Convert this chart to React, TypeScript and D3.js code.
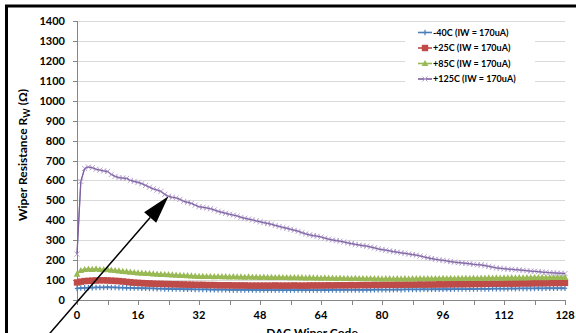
import React from 'react';
import * as d3 from 'd3';

const xTicks = [0, 16, 32, 48, 64, 80, 96, 112, 128];
const xMinorTicks = [0, 8, 16, 24, 32, 40, 48, 56, 64, 72, 80, 88, 96, 104, 112, 120, 128];
const yTicks = [0, 100, 200, 300, 400, 500, 600, 700, 800, 900, 1000, 1100, 1200, 1300, 1400];

const seriesNames = ['-40C (IW = 170uA)', '+25C (IW = 170uA)', '+85C (IW = 170uA)', '+125C (IW = 170uA)'];

const minus40 = [
  58,60,61,62,62,63,63,63,64,63,
  63,62,62,61,61,60,60,59,59,58,
  58,57,57,56,56,55,55,55,54,54,
  54,53,53,53,53,52,52,52,52,52,
  51,51,51,51,51,51,50,51,50,50,
  50,50,50,50,50,50,50,50,50,50,
  50,50,50,50,50,51,50,51,51,51,
  51,51,51,51,51,51,52,51,52,52,
  52,52,52,52,53,52,53,53,53,53,
  53,54,53,54,54,54,54,55,54,55,
  55,55,55,56,55,56,56,56,56,57,
  57,57,57,57,58,57,58,58,58,58,
  58,59,58,59,59,59,59,60,59,
];

const plus25 = [
  88,92,95,96,97,98,99,99,98,97,
  96,95,93,91,89,87,86,85,84,83,
  82,81,81,80,80,79,79,78,78,77,
  77,76,76,76,75,75,75,74,74,74,
  74,73,73,73,73,72,72,72,72,72,
  72,72,73,72,72,72,72,73,72,72,
  72,73,73,73,73,73,74,73,74,74,
  74,74,75,74,75,75,75,75,76,75,
  76,76,76,76,77,76,77,77,77,77,
  78,77,78,78,78,79,78,79,79,79,
  80,79,80,80,80,81,80,81,81,82,
  81,82,82,83,82,83,83,84,83,84,
  84,85,84,85,85,86,85,86,86,
];

const plus85 = [
  130,148,153,155,154,156,153,152,154,150,
  148,146,144,142,140,138,136,135,134,133,
  131,130,129,128,127,126,125,124,123,122,
  121,120,119,119,118,118,117,118,117,117,
  116,117,116,116,115,116,115,115,114,115,
  114,114,113,114,113,113,112,113,112,112,
  111,112,111,111,110,111,110,110,109,110,
  109,109,108,109,108,108,107,108,107,107,
  106,107,107,106,107,106,107,106,107,107,
  108,107,108,107,108,108,109,108,109,108,
  109,109,110,109,110,109,110,110,111,110,
  111,110,111,111,112,111,112,111,112,112,
  113,112,113,112,113,113,114,113,114,
];

const plus125 = [
  230,595,660,667,664,656,652,648,645,630,
  620,614,612,610,600,595,590,584,575,566,
  558,552,545,530,520,515,512,505,495,490,
  485,476,468,465,462,458,452,445,440,435,
  430,426,422,415,410,406,402,397,393,388,
  384,380,374,369,364,360,355,350,345,338,
  332,327,323,320,316,310,305,301,298,295,
  291,287,283,279,276,273,270,266,262,257,
  253,250,247,243,240,237,234,231,228,225,
  221,216,212,208,204,201,199,196,193,190,
  188,186,184,182,179,177,176,173,169,165,
  161,159,157,155,154,152,151,149,147,145,
  144,142,140,139,137,136,135,134,133,
];

const arrowTargetCode = 24;

const W = 576;
const H = 333;
const FONT = 'Lato, "Liberation Sans", Arial, sans-serif';

type MarkerKind = 'plus' | 'square' | 'triangle' | 'cross';

function Marker({ kind, x, y, color }: { kind: MarkerKind; x: number; y: number; color: string }) {
  if (kind === 'plus') {
    return (
      <g stroke={color} strokeWidth={1.2}>
        <line x1={x} y1={y - 2.8} x2={x} y2={y + 2.8} />
        <line x1={x - 2.2} y1={y} x2={x + 2.2} y2={y} />
      </g>
    );
  }
  if (kind === 'square') {
    return <rect x={x - 3.2} y={y - 3.2} width={6.4} height={6.4} fill={color} />;
  }
  if (kind === 'triangle') {
    return <path d={`M${x},${y - 3.6}L${x + 3.4},${y + 2.6}L${x - 3.4},${y + 2.6}Z`} fill={color} />;
  }
  return (
    <g stroke={color} strokeWidth={1}>
      <line x1={x - 2.6} y1={y - 2.6} x2={x + 2.6} y2={y + 2.6} />
      <line x1={x - 2.6} y1={y + 2.6} x2={x + 2.6} y2={y - 2.6} />
    </g>
  );
}

export default function App() {
  const x = d3.scaleLinear().domain([0, 128]).range([77, 565]);
  const y = d3.scaleLinear().domain([0, 1400]).range([300, 21]);

  const series = [
    { name: seriesNames[0], values: minus40, line: '#4A7EBB', marker: '#4A7EBB', kind: 'plus' as MarkerKind, lw: 1.8 },
    { name: seriesNames[1], values: plus25, line: '#BE4B48', marker: '#BE4B48', kind: 'square' as MarkerKind, lw: 1.8 },
    { name: seriesNames[2], values: plus85, line: '#98B954', marker: '#98B954', kind: 'triangle' as MarkerKind, lw: 1.8 },
    { name: seriesNames[3], values: plus125, line: '#7D60A0', marker: '#B7A6D0', kind: 'cross' as MarkerKind, lw: 1.3 },
  ];

  const lineGen = d3.line<number>().x((_, i) => x(i)).y((d) => y(d));

  const tipX = x(arrowTargetCode);
  const tipY = y(plus125[arrowTargetCode]);
  const dx = -0.655;
  const dy = 0.756;
  const headLen = 28;
  const headHalf = 8;
  const bx = tipX + dx * headLen;
  const by = tipY + dy * headLen;
  const px = -dy;
  const py = dx;

  const legendX = 418;
  const legendY0 = 32.5;
  const legendDy = 15.5;

  return (
    <svg width={W} height={H} style={{ position: 'absolute', left: 0, top: 0, background: '#fff' }} fontFamily={FONT}>
      <rect x={0} y={0} width={W} height={H} fill="#fff" />
      {/* frame */}
      <rect x={6.5} y={6} width={W + 20} height={H + 20} fill="none" stroke="#000" strokeWidth={3} />

      {/* gridlines */}
      {yTicks.map((t) => (
        <line key={'g' + t} x1={77} x2={565} y1={Math.round(y(t)) + 0.5} y2={Math.round(y(t)) + 0.5} stroke="#D9D9D9" strokeWidth={1} />
      ))}
      {/* axes */}
      <line x1={77.5} x2={77.5} y1={y(1400)} y2={y(0)} stroke="#868686" />
      <line x1={77} x2={565} y1={300.5} y2={300.5} stroke="#868686" />
      {yTicks.map((t) => (
        <line key={'yt' + t} x1={73} x2={77} y1={Math.round(y(t)) + 0.5} y2={Math.round(y(t)) + 0.5} stroke="#868686" />
      ))}
      {xMinorTicks.map((t) => (
        <line key={'xt' + t} x1={Math.round(x(t)) + 0.5} x2={Math.round(x(t)) + 0.5} y1={300} y2={305} stroke="#868686" />
      ))}

      {/* tick labels */}
      {yTicks.map((t) => (
        <text key={'yl' + t} x={65} y={y(t) + 4} textAnchor="end" fontSize={11} fontWeight={700} fill="#000">
          {t}
        </text>
      ))}
      {xTicks.map((t) => (
        <text key={'xl' + t} x={x(t)} y={319} textAnchor="middle" fontSize={11} fontWeight={700} fill="#000">
          {t}
        </text>
      ))}

      {/* axis titles */}
      <text x={312} y={337} textAnchor="middle" fontSize={12} fontWeight={700} fill="#000">
        DAC Wiper Code
      </text>
      <text transform="translate(27,155) rotate(-90)" textAnchor="middle" fontSize={12} fontWeight={700} fill="#000">
        Wiper Resistance R
        <tspan fontSize={9} dy={3}>W</tspan>
        <tspan dy={-3}> (Ω)</tspan>
      </text>

      {/* series */}
      {series.map((s) => (
        <g key={s.name}>
          <path d={lineGen(s.values) || ''} fill="none" stroke={s.line} strokeWidth={s.lw} />
          {s.values.map((v, i) => (
            <Marker key={i} kind={s.kind} x={x(i)} y={y(v)} color={s.marker} />
          ))}
          {s.kind === 'cross' && (
            <path d={lineGen(s.values) || ''} fill="none" stroke={s.line} strokeWidth={1} opacity={0.8} />
          )}
        </g>
      ))}

      {/* legend */}
      <rect x={405} y={24} width={130} height={66} fill="#fff" />
      {series.map((s, i) => {
        const ly = legendY0 + i * legendDy;
        return (
          <g key={'lg' + i}>
            <line x1={legendX} x2={legendX + 14} y1={ly} y2={ly} stroke={s.line} strokeWidth={1.6} />
            <Marker kind={s.kind} x={legendX + 7} y={ly} color={s.marker} />
            <text x={legendX + 15} y={ly + 3.2} fontSize={9} fontWeight={700} fill="#000">
              {s.name}
            </text>
          </g>
        );
      })}

      {/* annotation arrow */}
      <line x1={tipX + dx * 240} y1={tipY + dy * 240} x2={bx} y2={by} stroke="#000" strokeWidth={1.5} />
      <path
        d={`M${tipX},${tipY}L${bx + px * headHalf},${by + py * headHalf}L${bx - px * headHalf},${by - py * headHalf}Z`}
        fill="#000"
      />
    </svg>
  );
}
